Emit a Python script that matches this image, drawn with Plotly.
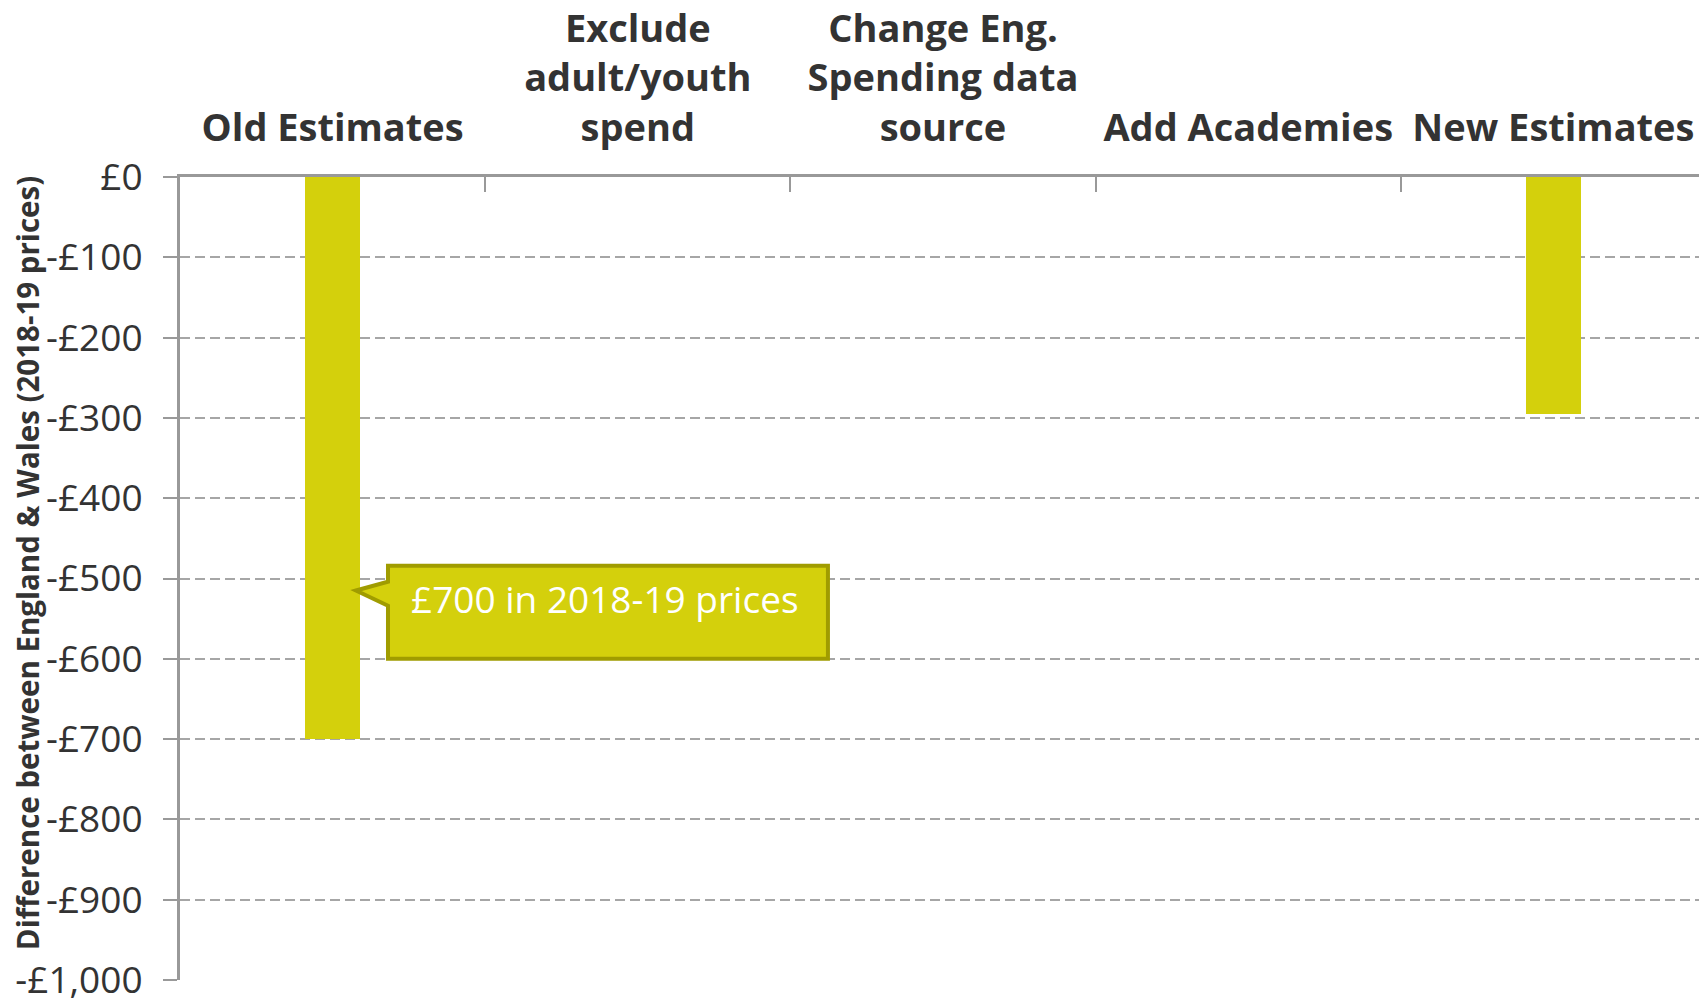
import plotly.graph_objects as go

categories = ["Old Estimates", "Exclude<br>adult/youth<br>spend", "Change Eng.<br>Spending data<br>source", "Add Academies", "New Estimates"]
values = [-700, None, None, None, -295]
tick_vals = [0, -100, -200, -300, -400, -500, -600, -700, -800, -900, -1000]
tick_text = ["£0", "-£100", "-£200", "-£300", "-£400", "-£500", "-£600", "-£700", "-£800", "-£900", "-£1,000"]
callout_text = "£700 in 2018-19 prices"
y_title = "Difference between England & Wales (2018-19 prices)"

BAR = "#d4d00c"
EDGE = "#a09c00"
AX = "#999999"
TXT = "#333333"
FONT = "Open Sans"

fig = go.Figure()
fig.add_trace(go.Bar(x=categories, y=values, marker=dict(color=BAR, line=dict(width=0)), width=0.18, showlegend=False, hoverinfo="skip"))

fig.update_layout(
    width=1699, height=992,
    margin=dict(l=172, r=1, t=169, b=20, autoexpand=False),
    plot_bgcolor="white", paper_bgcolor="white",
    font=dict(family=FONT, color=TXT, size=36),
    bargap=0,
)
fig.update_xaxes(
    type="category", side="top", automargin=False,
    categoryorder="array", categoryarray=categories,
    ticks="inside", tickson="boundaries", ticklen=15, tickwidth=2, tickcolor=AX,
    showline=True, linecolor=AX, linewidth=3,
    showgrid=False, zeroline=False,
    tickfont=dict(family=FONT, size=38, color=TXT, weight="bold"),
    ticklabelstandoff=18, ticklabeloverflow="allow",
    fixedrange=True,
)
fig.update_yaxes(
    range=[-1000, 0], automargin=False,
    tickvals=tick_vals, ticktext=tick_text,
    ticks="outside", ticklen=14, tickwidth=2, tickcolor=AX,
    showline=True, linecolor=AX, linewidth=3,
    showgrid=True, gridcolor="#a6a6a6", gridwidth=2, griddash="10px,5px",
    zeroline=False,
    tickfont=dict(family=FONT, size=37, color=TXT),
    ticklabelstandoff=13, ticklabeloverflow="allow",
)

# callout box (annotation decoration), x in paper units, y in data units
bl, br, tip = 0.1363, 0.4246, 0.1153
path = (f"M {tip},-515 L {bl},-504 L {bl},-484 L {br},-484 L {br},-600 "
        f"L {bl},-600 L {bl},-534 Z")
fig.add_shape(type="path", path=path, xref="paper", yref="y",
              fillcolor=BAR, line=dict(color=EDGE, width=4), layer="above")
fig.add_annotation(x=0.1501, y=-525, xref="paper", yref="y", text=callout_text,
                   showarrow=False, xanchor="left", yanchor="middle",
                   font=dict(family=FONT, size=37, color="white"))

fig.add_annotation(x=-0.1003, y=0.519, xref="paper", yref="paper", text=y_title,
                   textangle=-90, showarrow=False, xanchor="center", yanchor="middle",
                   font=dict(family=FONT, size=29.5, color=TXT, weight="bold"))

fig.write_html("out.html")
